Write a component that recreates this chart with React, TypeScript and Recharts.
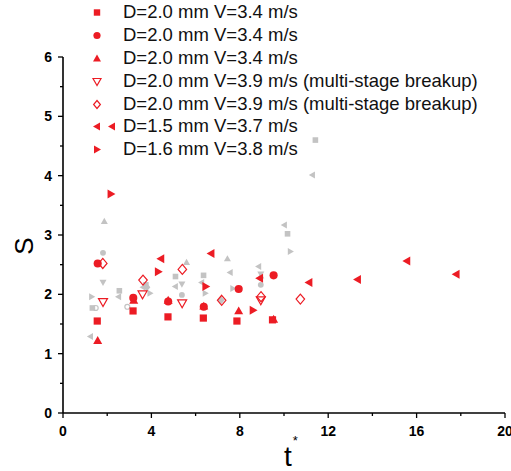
import React from "react";
import { Legend, Scatter, ScatterChart, XAxis, YAxis } from "recharts";

const RED = "#ec1c24";
const GRAY = "#c3c3c3";
const FONT = "Arial, 'Liberation Sans', Helvetica, sans-serif";

const xTicks = [0, 2, 4, 6, 8, 10, 12, 14, 16, 18, 20];
const yTicks = [0, 0.5, 1, 1.5, 2, 2.5, 3, 3.5, 4, 4.5, 5, 5.5, 6];

// red series: [t*, S]
const redSquare = [[1.55, 1.55], [3.17, 1.72], [4.75, 1.62], [6.35, 1.6], [7.87, 1.55], [9.48, 1.57]];
const redCircle = [[1.57, 2.52], [3.18, 1.94], [4.76, 1.88], [6.37, 1.79], [7.95, 2.09], [9.53, 2.32]];
const redUp = [[1.57, 1.22], [3.2, 1.9], [4.76, 1.9], [6.37, 1.8], [7.95, 1.72], [9.53, 1.58]];
const redDown = [[1.81, 1.87], [3.6, 2.0], [5.39, 1.85], [8.95, 1.9]];
const redDiamond = [[1.8, 2.52], [3.62, 2.24], [5.4, 2.42], [7.18, 1.9], [8.96, 1.96], [10.74, 1.92]];
const redLeft = [[4.43, 2.6], [6.7, 2.69], [8.9, 2.27], [11.13, 2.2], [13.33, 2.25], [15.56, 2.56], [17.79, 2.34]];
const redRight = [[2.17, 3.69], [4.31, 2.38], [6.46, 2.13], [8.6, 1.73]];

// gray background points
const graySquare = [[1.33, 1.77], [2.55, 2.06], [3.75, 2.16], [5.09, 2.3], [6.36, 2.32], [10.16, 3.02], [11.42, 4.6]];
const grayCircle = [[1.81, 2.7], [5.38, 1.99], [8.95, 2.16]];
const grayRing = [[1.48, 1.77], [2.91, 1.79]];
const grayUp = [[1.87, 3.23], [5.59, 2.54], [7.44, 2.6], [8.95, 2.31]];
const grayDown = [[1.81, 2.2], [5.38, 2.17], [8.95, 2.34]];
const grayLeft = [[1.24, 1.29], [2.51, 1.96], [3.62, 2.12], [5.08, 2.13], [6.27, 2.2], [7.56, 2.37], [8.85, 2.47], [10.01, 3.17], [11.28, 4.01]];
const grayRight = [[1.3, 1.96], [3.94, 2.02], [6.44, 2.02], [7.69, 2.1], [10.29, 2.72]];
const grayDiamond = [[3.8, 2.12], [7.16, 1.9]];

const legendLabels = [
  "D=2.0 mm V=3.4 m/s",
  "D=2.0 mm V=3.4 m/s",
  "D=2.0 mm V=3.4 m/s",
  "D=2.0 mm V=3.9 m/s (multi-stage breakup)",
  "D=2.0 mm V=3.9 m/s (multi-stage breakup)",
  "D=1.5 mm V=3.7 m/s",
  "D=1.6 mm V=3.8 m/s",
];
const legendKinds = ["square", "circle", "up", "down", "diamond", "left", "right"];

type Kind = "square" | "circle" | "up" | "down" | "left" | "right" | "diamond";

function Marker({ cx, cy, kind, size, color, hollow }: { cx: number; cy: number; kind: Kind; size: number; color: string; hollow?: boolean }) {
  const fill = hollow ? "none" : color;
  const stroke = hollow ? color : "none";
  const sw = hollow ? 1.2 : 0;
  const h = size / 2;
  if (kind === "square") return <rect x={cx - h * 0.8} y={cy - h * 0.8} width={size * 0.8} height={size * 0.8} fill={fill} stroke={stroke} strokeWidth={sw} />;
  if (kind === "circle") return <circle cx={cx} cy={cy} r={h * 0.9} fill={fill} stroke={stroke} strokeWidth={sw} />;
  let pts: number[][] = [];
  if (kind === "up") pts = [[cx, cy - h], [cx - h, cy + h * 0.75], [cx + h, cy + h * 0.75]];
  if (kind === "down") pts = [[cx, cy + h], [cx - h, cy - h * 0.75], [cx + h, cy - h * 0.75]];
  if (kind === "left") pts = [[cx - h, cy], [cx + h * 0.75, cy - h], [cx + h * 0.75, cy + h]];
  if (kind === "right") pts = [[cx + h, cy], [cx - h * 0.75, cy - h], [cx - h * 0.75, cy + h]];
  if (kind === "diamond") pts = [[cx, cy - h], [cx + h * 0.85, cy], [cx, cy + h], [cx - h * 0.85, cy]];
  return <polygon points={pts.map((p) => p.join(",")).join(" ")} fill={fill} stroke={stroke} strokeWidth={sw} />;
}

const toData = (pts: number[][]) => pts.map(([x, y]) => ({ x, y }));

const series: { data: number[][]; kind: Kind; color: string; size: number; hollow?: boolean }[] = [
  { data: graySquare, kind: "square", color: GRAY, size: 7 },
  { data: grayCircle, kind: "circle", color: GRAY, size: 6.5 },
  { data: grayRing, kind: "circle", color: GRAY, size: 5.5, hollow: true },
  { data: grayUp, kind: "up", color: GRAY, size: 7 },
  { data: grayDown, kind: "down", color: GRAY, size: 7 },
  { data: grayLeft, kind: "left", color: GRAY, size: 7 },
  { data: grayRight, kind: "right", color: GRAY, size: 7 },
  { data: grayDiamond, kind: "diamond", color: GRAY, size: 8 },
  { data: redSquare, kind: "square", color: RED, size: 9 },
  { data: redCircle, kind: "circle", color: RED, size: 9 },
  { data: redUp, kind: "up", color: RED, size: 9 },
  { data: redDown, kind: "down", color: RED, size: 9, hollow: true },
  { data: redDiamond, kind: "diamond", color: RED, size: 10, hollow: true },
  { data: redLeft, kind: "left", color: RED, size: 9 },
  { data: redRight, kind: "right", color: RED, size: 9 },
];

function XTick(props: any) {
  const { x, y, payload } = props;
  const major = payload.value % 4 === 0;
  return (
    <g>
      <line x1={x} x2={x} y1={y} y2={y + (major ? 5 : 3)} stroke="#000" strokeWidth={1.3} />
      {major && (
        <text x={x} y={y + 23} textAnchor="middle" fontSize={14} fontWeight="bold" fontFamily={FONT} fill="#000">
          {payload.value}
        </text>
      )}
    </g>
  );
}

function YTick(props: any) {
  const { x, y, payload } = props;
  const major = Number.isInteger(payload.value);
  return (
    <g>
      <line x1={x} x2={x - (major ? 5 : 3)} y1={y} y2={y} stroke="#000" strokeWidth={1.3} />
      {major && (
        <text x={x - 11} y={y + 5} textAnchor="end" fontSize={14} fontWeight="bold" fontFamily={FONT} fill="#000">
          {payload.value}
        </text>
      )}
    </g>
  );
}

function LegendBox() {
  return (
    <div style={{ fontFamily: FONT, fontSize: 18.5, color: "#111", lineHeight: "22.9px" }}>
      {legendLabels.map((label, i) => (
        <div key={i} style={{ display: "flex", alignItems: "center", height: 22.9, whiteSpace: "nowrap" }}>
          <svg width={123} height={22.9} style={{ flex: "none" }}>
            <Marker cx={97} cy={11.5} kind={legendKinds[i] as Kind} size={8} color={RED} hollow={i === 3 || i === 4} />
            {i === 5 && <Marker cx={112} cy={11.5} kind="left" size={8} color={RED} />}
          </svg>
          <span>{label}</span>
        </div>
      ))}
    </div>
  );
}

export default function App() {
  return (
    <div style={{ position: "absolute", left: 0, top: 0, width: 511, height: 471, background: "#fff" }}>
      <ScatterChart width={511} height={471} margin={{ top: 57, right: 6, bottom: 28, left: 23 }}>
        <XAxis
          type="number"
          dataKey="x"
          domain={[0, 20]}
          ticks={xTicks}
          interval={0}
          tickSize={0}
          tickMargin={0}
          tickLine={false}
          tick={<XTick />}
          axisLine={{ stroke: "#000", strokeWidth: 1.6 }}
          height={30}
          allowDataOverflow
        />
        <YAxis
          type="number"
          dataKey="y"
          domain={[0, 6]}
          ticks={yTicks}
          interval={0}
          tickSize={0}
          tickMargin={0}
          tickLine={false}
          tick={<YTick />}
          axisLine={{ stroke: "#000", strokeWidth: 1.6 }}
          width={40}
          allowDataOverflow
        />
        <Legend
          layout="vertical"
          align="center"
          verticalAlign="middle"
          wrapperStyle={{ top: 1, left: 0, width: 511 }}
          content={() => <LegendBox />}
        />
        {series.map((s, i) => (
          <Scatter
            key={i}
            data={toData(s.data)}
            isAnimationActive={false}
            legendType="none"
            shape={(p: any) => <Marker cx={p.cx} cy={p.cy} kind={s.kind} size={s.size} color={s.color} hollow={s.hollow} />}
          />
        ))}
      </ScatterChart>
      <svg width={511} height={471} style={{ position: "absolute", left: 0, top: 0, pointerEvents: "none" }}>
        <text x={33} y={246} transform="rotate(-90 33 246)" textAnchor="middle" fontSize={26} fontFamily={FONT} fill="#000">
          S
        </text>
        <text x={291} y={466} textAnchor="middle" fontSize={28} fontFamily={FONT} fill="#000">
          t<tspan fontSize={13} dx={1} dy={-21}>*</tspan>
        </text>
      </svg>
    </div>
  );
}
